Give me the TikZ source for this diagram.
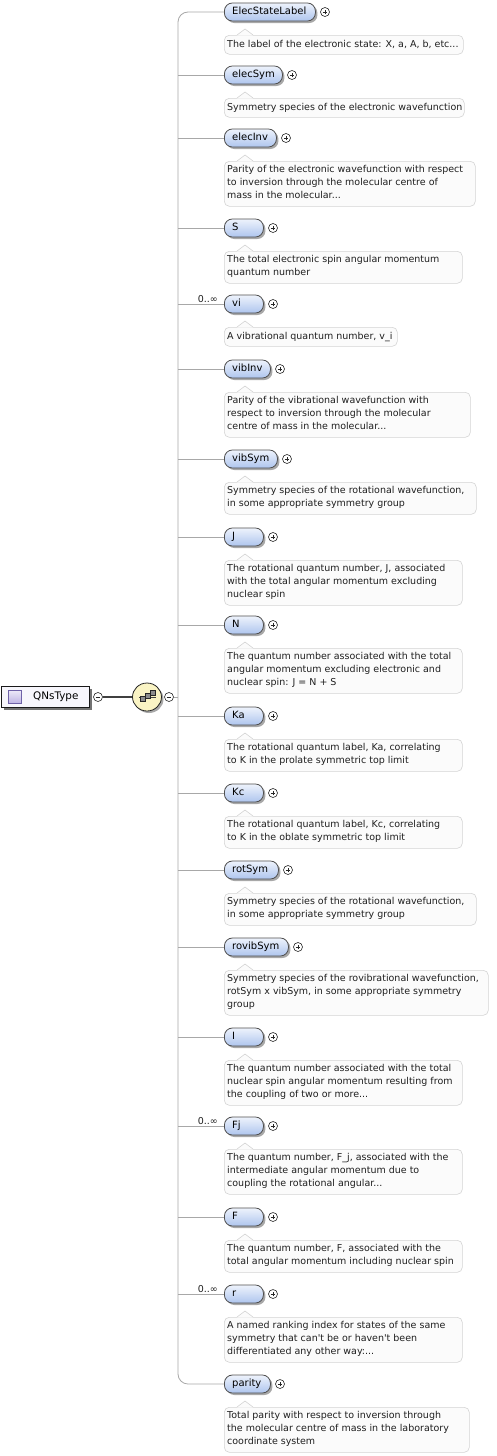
\documentclass[tikz,border=0pt]{standalone}
\usepackage{fontspec}
\setmainfont{DejaVu Sans}
\usetikzlibrary{shapes.geometric,shadows,calc}
\definecolor{spinec}{HTML}{A8A8A8}
\definecolor{elemtop}{HTML}{EEF3FC}
\definecolor{elembot}{HTML}{AEC5EE}
\definecolor{elemline}{HTML}{505050}
\definecolor{annfill}{HTML}{FBFBFB}
\definecolor{annline}{HTML}{D4D4D4}
\definecolor{compfill}{HTML}{FAF4C4}
\definecolor{typefill}{HTML}{F7F6FC}
\definecolor{icontop}{HTML}{ECE8F8}
\definecolor{iconbot}{HTML}{BDB3E3}
\definecolor{iconline}{HTML}{6F62A8}
\definecolor{shadowc}{HTML}{A8A8A8}
\newcommand{\qel}[7]{%
  \pgfmathsetmacro{\qbw}{#4-224}%
  \pgfmathsetmacro{\qat}{#3+23}%
  \pgfmathsetmacro{\qah}{13*#5+6}%
  \pgfmathsetmacro{\qaw}{#6-224}%
  \node[elem, minimum width=\qbw pt, anchor=west] (e#1) at (224,#3) {};
  \node[elemtext, anchor=west] (en#1) at (232,#3) {#2};
  \node[pluscirc] (p#1) at (#4+10,#3) {};
  \node[annot, minimum width=\qaw pt, minimum height=\qah pt, anchor=north west] (a#1) at (224,\qat) {};
  \fill[annfill] (237,\qat+0.6) -- (245,\qat-6) -- (253,\qat+0.6) -- cycle;
  \draw[annline, line width=0.6pt] (237,\qat) -- (245,\qat-6) -- (253,\qat);
  \node[annottext, anchor=west] (t#1) at ([xshift=3pt]a#1.west) {#7};
}
\begin{document}
\begin{tikzpicture}[x=1pt,y=-1pt,
  elem/.style={draw=elemline, line width=0.8pt, rounded corners=8pt,
    top color=elemtop, bottom color=elembot, minimum height=18pt, inner sep=0pt,
    drop shadow={shadow xshift=2pt, shadow yshift=-2pt, fill=shadowc, opacity=1}},
  elemtext/.style={inner sep=0pt, text height=7.4pt, text depth=2.3pt, font=\fontsize{10}{12}\selectfont},
  annot/.style={draw=annline, fill=annfill, line width=0.6pt, rounded corners=5pt, inner sep=0pt},
  annottext/.style={align=left, inner sep=0pt, font=\fontsize{9.5}{13}\selectfont, text=black!88,
    execute at begin node=\strut, execute at end node=\strut},
  pluscirc/.style={circle, draw=black!85, fill=white, line width=0.6pt, minimum size=9pt, inner sep=0pt,
    path picture={\draw[line width=0.6pt] ([xshift=-2.4pt]path picture bounding box.center) -- ([xshift=2.4pt]path picture bounding box.center)
      ([yshift=-2.4pt]path picture bounding box.center) -- ([yshift=2.4pt]path picture bounding box.center);}},
  minuscirc/.style={circle, draw=black!85, fill=white, line width=0.6pt, minimum size=9pt, inner sep=0pt,
    path picture={\draw[line width=0.6pt] ([xshift=-2.4pt]path picture bounding box.center) -- ([xshift=2.4pt]path picture bounding box.center);}},
  multlab/.style={inner sep=0pt, font=\fontsize{9.5}{11}\selectfont, text=black!88},
  typebox/.style={draw=black!90, fill=typefill, minimum width=88pt, minimum height=21pt, inner sep=0pt, line width=0.8pt,
    drop shadow={shadow xshift=3pt, shadow yshift=-3pt, fill=black!55, opacity=1}},
  compo/.style={ellipse, draw=black!85, fill=compfill, minimum width=29pt, minimum height=28pt, inner sep=0pt, line width=0.8pt,
    drop shadow={shadow xshift=2pt, shadow yshift=-2pt, fill=shadowc, opacity=1}},
  spine/.style={draw=spinec, line width=0.8pt}
]
\useasboundingbox (0,0) rectangle (496,1456);
\fill[white] (0,0) rectangle (496,1456);

% type box
\node[typebox, anchor=north west] (qt) at (1,686) {};
\node[draw=iconline, top color=icontop, bottom color=iconbot, minimum size=13pt, inner sep=0pt, line width=0.7pt] (qi) at (15,697) {};
\node[inner sep=0pt, anchor=west, font=\fontsize{10.4}{12}\selectfont] (qn) at (33,697) {QNsType};
\node[minuscirc] (m0) at (98,697) {};
\node[compo] (c) at (147,697) {};
\draw[black!75, line width=0.8pt] (139,697) -- (156,697);
\foreach \cx/\cy in {143/699,148/696,153/693}
  \filldraw[draw=black!85, fill=black!45, line width=0.5pt] (\cx-2.6,\cy-2.6) rectangle (\cx+2.6,\cy+2.6);
\node[minuscirc] (m1) at (169,697) {};
\draw[black!75, line width=1.4pt] (m0.east) -- (c.west);

\qel{1}{ElecStateLabel}{12}{315}{1}{463}{The label of the electronic state: X, a, A, b, etc...}
\qel{2}{elecSym}{75}{282}{1}{464}{Symmetry species of the electronic wavefunction}
\qel{3}{elecInv}{138}{276}{3}{475}{Parity of the electronic wavefunction with respect\\to inversion through the molecular centre of\\mass in the molecular...}
\qel{4}{S}{228}{263}{2}{462}{The total electronic spin angular momentum\\quantum number}
\qel{5}{vi}{304}{263}{1}{397}{A vibrational quantum number, v\_i}
\qel{6}{vibInv}{369}{270}{3}{470}{Parity of the vibrational wavefunction with\\respect to inversion through the molecular\\centre of mass in the molecular...}
\qel{7}{vibSym}{459}{277}{2}{476}{Symmetry species of the rotational wavefunction,\\in some appropriate symmetry group}
\qel{8}{J}{537}{263}{3}{462}{The rotational quantum number, J, associated\\with the total angular momentum excluding\\nuclear spin}
\qel{9}{N}{625}{263}{3}{462}{The quantum number associated with the total\\angular momentum excluding electronic and\\nuclear spin: J = N + S}
\qel{10}{Ka}{716}{263}{2}{462}{The rotational quantum label, Ka, correlating\\to K in the prolate symmetric top limit}
\qel{11}{Kc}{793}{263}{2}{462}{The rotational quantum label, Kc, correlating\\to K in the oblate symmetric top limit}
\qel{12}{rotSym}{870}{278}{2}{476}{Symmetry species of the rotational wavefunction,\\in some appropriate symmetry group}
\qel{13}{rovibSym}{947}{288}{3}{488}{Symmetry species of the rovibrational wavefunction,\\rotSym x vibSym, in some appropriate symmetry\\group}
\qel{14}{I}{1037}{263}{3}{462}{The quantum number associated with the total\\nuclear spin angular momentum resulting from\\the coupling of two or more...}
\qel{15}{Fj}{1126}{263}{3}{462}{The quantum number, F\_j, associated with the\\intermediate angular momentum due to\\coupling the rotational angular...}
\qel{16}{F}{1217}{263}{2}{462}{The quantum number, F, associated with the\\total angular momentum including nuclear spin}
\qel{17}{r}{1294}{263}{3}{462}{A named ranking index for states of the same\\symmetry that can\textquotesingle t be or haven\textquotesingle t been\\differentiated any other way:...}
\qel{18}{parity}{1384}{270}{3}{469}{Total parity with respect to inversion through\\the molecular centre of mass in the laboratory\\coordinate system}

\node[multlab, anchor=base east] (mu5) at (218,302) {0..∞};
\node[multlab, anchor=base east] (mu15) at (218,1124) {0..∞};
\node[multlab, anchor=base east] (mu17) at (218,1292) {0..∞};

% spine and branches
\coordinate (spb) at (178,1384);
\draw[spine, rounded corners=10pt] (e1.west) -| (spb) -- (e18.west);
\foreach \i in {2,...,17} \draw[spine] (e\i.west) -- (e\i.west -| spb);
\draw[spine] (m1.east) -- (m1.east -| spb);
\end{tikzpicture}
\end{document}
